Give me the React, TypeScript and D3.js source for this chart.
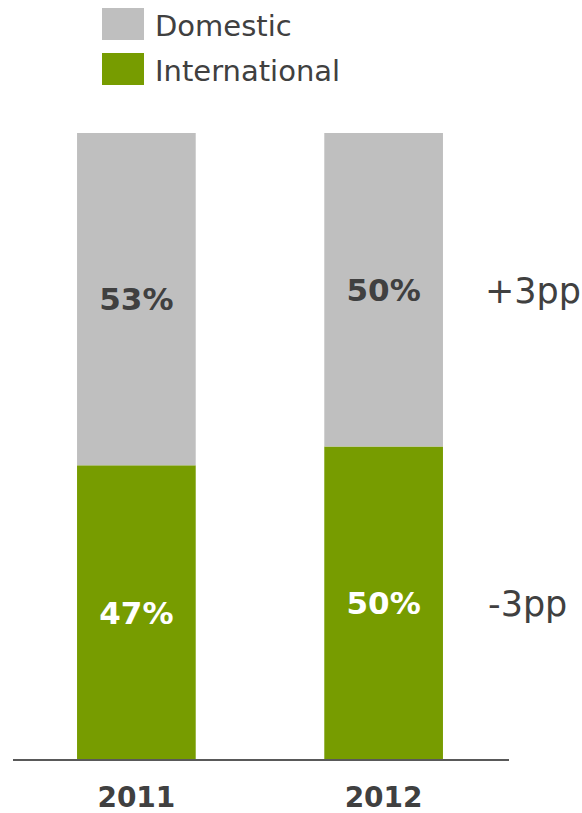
import React from "react";
import * as d3 from "d3";

const years = ["2011", "2012"];
const international = [47, 50];
const domestic = [53, 50];
const seriesNames = ["Domestic", "International"];
const changeLabels = ["+3pp", "-3pp"];

const W = 582;
const H = 813;
const GRAY = "#bfbfbf";
const GREEN = "#779c00";
const TEXT = "#404040";
const FONT = "'DejaVu Sans', Verdana, sans-serif";

export default function App() {
  const x = d3.scaleBand<string>().domain(years).range([13, 507]).paddingInner(0.52).paddingOuter(0.259);
  const y = d3.scaleLinear().domain([0, 100]).range([760, 133]);

  const rows = years.map((yr, i) => ({ year: yr, International: international[i], Domestic: domestic[i] }));
  const stack = d3.stack<any>().keys(["International", "Domestic"]);
  const layers = stack(rows);
  const colors: Record<string, string> = { International: GREEN, Domestic: GRAY };
  const labelColors: Record<string, string> = { International: "#ffffff", Domestic: TEXT };

  const lastIdx = years.length - 1;
  const domLayer = layers.find((l) => l.key === "Domestic")!;
  const intLayer = layers.find((l) => l.key === "International")!;

  return (
    <svg width={W} height={H} style={{ position: "absolute", left: 0, top: 0, display: "block" }} fontFamily={FONT}>
      {seriesNames.map((name, i) => (
        <g key={name} transform={`translate(102, ${8 + i * 45})`}>
          <rect width={42} height={32} fill={name === "Domestic" ? GRAY : GREEN} />
          <text x={53} y={28} fontSize={29} fill={TEXT}>{name}</text>
        </g>
      ))}
      {layers.map((layer) => (
        <g key={layer.key}>
          {layer.map((d, i) => (
            <g key={i}>
              <rect
                x={x(years[i])}
                y={y(d[1])}
                width={x.bandwidth()}
                height={y(d[0]) - y(d[1])}
                fill={colors[layer.key]}
              />
              <text
                x={(x(years[i]) as number) + x.bandwidth() / 2}
                y={(y(d[0]) + y(d[1])) / 2 + 11}
                textAnchor="middle"
                fontSize={31}
                fontWeight="bold"
                fill={labelColors[layer.key]}
              >
                {`${d[1] - d[0]}%`}
              </text>
            </g>
          ))}
        </g>
      ))}
      <line x1={13} x2={509} y1={760} y2={760} stroke="#595959" strokeWidth={2} />
      {years.map((yr) => (
        <text
          key={yr}
          x={(x(yr) as number) + x.bandwidth() / 2}
          y={807}
          textAnchor="middle"
          fontSize={28}
          fontWeight="bold"
          fill={TEXT}
        >
          {yr}
        </text>
      ))}
      <text x={485} y={(y(domLayer[lastIdx][0]) + y(domLayer[lastIdx][1])) / 2 + 13} fontSize={35} fill={TEXT}>
        {changeLabels[0]}
      </text>
      <text x={488} y={(y(intLayer[lastIdx][0]) + y(intLayer[lastIdx][1])) / 2 + 13} fontSize={35} fill={TEXT}>
        {changeLabels[1]}
      </text>
    </svg>
  );
}
